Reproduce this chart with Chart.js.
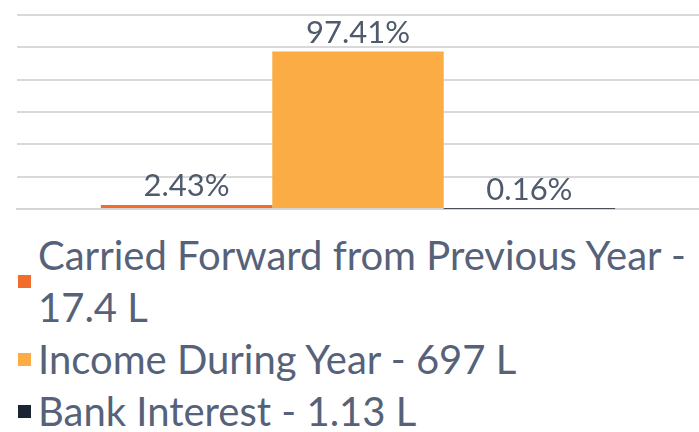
<!DOCTYPE html>
<html>
<head>
<meta charset="utf-8">
<script src="https://cdn.jsdelivr.net/npm/chart.js@4"></script>
<style>
    html, body { margin: 0; padding: 0; background: #fff; overflow: hidden; }
    body { width: 699px; height: 432px; position: relative; font-family: Lato, sans-serif; }
    #chartBox { position: absolute; left: 0; top: 0; width: 699px; height: 216px; }
    #legend { position: absolute; left: 18px; top: 229px; width: 760px; }
    .item { display: flex; align-items: center; font-size: 40px; line-height: 52px; color: #56627a; }
    .item .box { width: 13px; height: 13px; margin-right: 7px; flex: none; }
</style>
</head>
<body>
<div id="chartBox"><canvas id="chartCanvas"></canvas></div>
<div id="legend"></div>
<script>
// values
const categories = [''];
const seriesNames = ['Carried Forward from Previous Year - 17.4 L', 'Income During Year - 697 L', 'Bank Interest - 1.13 L'];
const seriesValues = [2.43, 97.41, 0.16];
const seriesColors = ['#f26c2c', '#fbac45', '#1c2333'];

// draws the % value above each bar
const valueLabels = {
    id: 'valueLabels',
    afterDatasetsDraw(chart) {
        const ctx = chart.ctx;
        ctx.save();
        ctx.font = '31px Lato, sans-serif';
        ctx.fillStyle = '#4f5a6d';
        ctx.textAlign = 'center';
        ctx.textBaseline = 'alphabetic';
        chart.data.datasets.forEach((ds, i) => {
            const bar = chart.getDatasetMeta(i).data[0];
            ctx.fillText(ds.data[0].toFixed(2) + '%', bar.x, bar.y - 9);
        });
        ctx.restore();
    }
};

const chartCanvas = document.getElementById('chartCanvas');
const chartInstance = new Chart(chartCanvas, {
    type: 'bar',
    data: {
        labels: categories,
        datasets: seriesNames.map((name, i) => ({
            label: name,
            data: [seriesValues[i]],
            backgroundColor: seriesColors[i],
            borderWidth: 0,
            categoryPercentage: 0.754,
            barPercentage: 1
        }))
    },
    options: {
        responsive: true,
        maintainAspectRatio: false,
        animation: false,
        layout: { padding: { left: 17, top: 15, right: 0, bottom: 7 } },
        plugins: {
            legend: { display: false },
            tooltip: { enabled: false }
        },
        scales: {
            x: {
                grid: { display: false, drawTicks: false },
                border: { display: true, color: '#d4d4d4', width: 2 },
                ticks: { display: false }
            },
            y: {
                min: 0,
                max: 120,
                ticks: { display: false, stepSize: 20 },
                grid: { color: '#d9d9d9', lineWidth: 2, drawTicks: false },
                border: { display: false }
            }
        }
    },
    plugins: [valueLabels]
});

// html legend so the long name can wrap like the original
const legendEl = document.getElementById('legend');
chartInstance.data.datasets.forEach(ds => {
    const row = document.createElement('div');
    row.className = 'item';
    const box = document.createElement('span');
    box.className = 'box';
    box.style.background = ds.backgroundColor;
    const txt = document.createElement('span');
    txt.style.width = '700px';
    txt.textContent = ds.label;
    row.appendChild(box);
    row.appendChild(txt);
    legendEl.appendChild(row);
});
</script>
</body>
</html>
